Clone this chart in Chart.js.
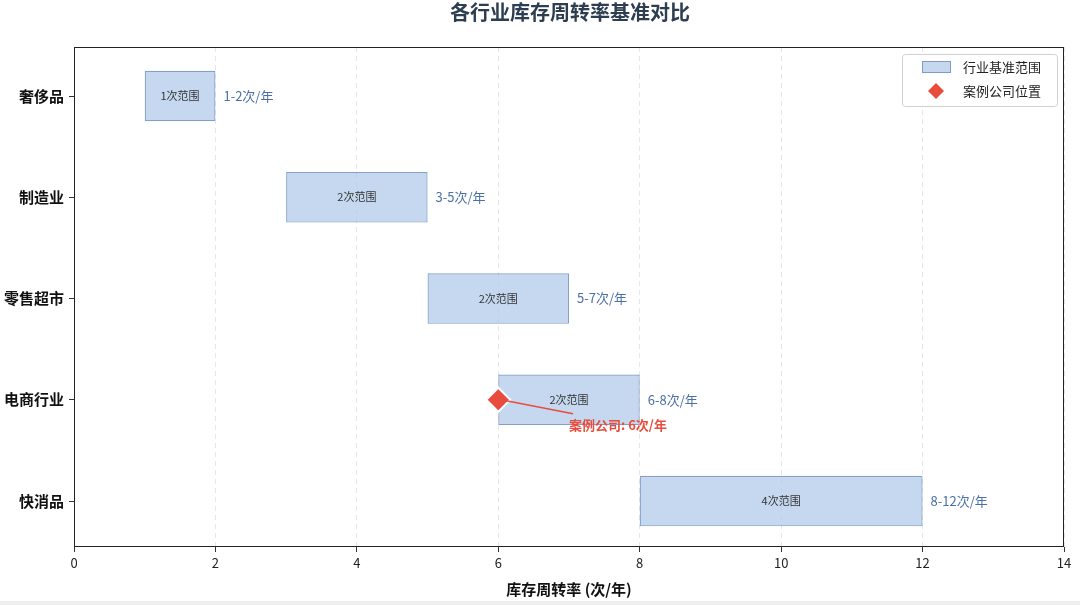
<!DOCTYPE html>
<html>
<head>
<meta charset="utf-8">
<script src="https://cdn.jsdelivr.net/npm/chart.js@4"></script>
<style>
  html, body { margin: 0; padding: 0; background: #fff; overflow: hidden; }
  #wrap { width: 1080px; height: 605px; position: relative; }
  #c { display: block; }
  #strip { position: absolute; left: 0; bottom: 0; width: 1080px; height: 4px; background: #eeeeee; }
</style>
</head>
<body>
<div id="wrap">
  <canvas id="c" width="1080" height="605"></canvas>
  <div id="strip"></div>
</div>
<script>
const industries = ['奢侈品', '制造业', '零售超市', '电商行业', '快消品'];
const rangeLow = [1, 3, 5, 6, 8];
const rangeHigh = [2, 5, 7, 8, 12];
const companyName = '电商行业';
const companyValue = 6;
const xTicks = [0, 2, 4, 6, 8, 10, 12, 14];

const FONT = '"Noto Sans CJK SC", "Noto Sans", sans-serif';
const companyIdx = industries.indexOf(companyName);

// range text drawn next to / inside each bar
const rangeText = {
  id: 'rangeText',
  afterDatasetsDraw(chart) {
    const ctx = chart.ctx;
    const meta = chart.getDatasetMeta(0);
    const x = chart.scales.x;
    ctx.save();
    ctx.textBaseline = 'middle';
    meta.data.forEach((bar, i) => {
      const lo = rangeLow[i], hi = rangeHigh[i];
      const cx = (x.getPixelForValue(lo) + x.getPixelForValue(hi)) / 2;
      ctx.font = '11px ' + FONT;
      ctx.fillStyle = '#333';
      ctx.textAlign = 'center';
      ctx.fillText((hi - lo) + '次范围', cx, bar.y);
      ctx.font = '13px ' + FONT;
      ctx.fillStyle = '#4a6fa5';
      ctx.textAlign = 'left';
      ctx.fillText(lo + '-' + hi + '次/年', x.getPixelForValue(hi) + 8, bar.y);
    });
    ctx.restore();
  }
};

// frame, title, axis title, legend, company annotation
const decor = {
  id: 'decor',
  afterDraw(chart) {
    const ctx = chart.ctx;
    const a = chart.chartArea;
    const x = chart.scales.x, y = chart.scales.y;
    ctx.save();
    ctx.strokeStyle = '#222';
    ctx.lineWidth = 1;
    ctx.strokeRect(a.left + 0.5, a.top + 0.5, a.right - a.left - 1, a.bottom - a.top - 1);

    ctx.font = 'bold 20px ' + FONT;
    ctx.fillStyle = '#2c3e50';
    ctx.textAlign = 'center';
    ctx.textBaseline = 'middle';
    ctx.fillText('各行业库存周转率基准对比', 570, 12);

    ctx.font = 'bold 15px ' + FONT;
    ctx.fillStyle = '#111';
    ctx.fillText('库存周转率 (次/年)', (a.left + a.right) / 2, 589);

    // annotation
    const px = x.getPixelForValue(companyValue);
    const py = y.getPixelForValue(companyIdx);
    const tx = x.getPixelForValue(companyValue + 1);
    const ty = py + 25;
    ctx.strokeStyle = '#e74c3c';
    ctx.lineWidth = 1.5;
    ctx.beginPath();
    ctx.moveTo(tx + 4, ty - 11);
    ctx.lineTo(px + 8, py + 1);
    ctx.stroke();
    ctx.font = 'bold 13px ' + FONT;
    ctx.fillStyle = '#e74c3c';
    ctx.textAlign = 'left';
    ctx.fillText('案例公司: ' + companyValue + '次/年', tx, ty);

    // legend
    const lx = 902, ly = 54, lw = 155, lh = 52;
    ctx.fillStyle = 'rgba(255,255,255,0.85)';
    ctx.strokeStyle = '#d0d0d0';
    ctx.lineWidth = 1;
    ctx.beginPath();
    ctx.roundRect(lx + 0.5, ly + 0.5, lw, lh, 3);
    ctx.fill();
    ctx.stroke();
    ctx.fillStyle = '#c5d8f0';
    ctx.strokeStyle = '#7f9cc6';
    ctx.fillRect(922, 61, 28, 11);
    ctx.strokeRect(922.5, 61.5, 28, 11);
    ctx.fillStyle = '#e74c3c';
    ctx.beginPath();
    ctx.moveTo(936, 83); ctx.lineTo(944, 91); ctx.lineTo(936, 99); ctx.lineTo(928, 91);
    ctx.closePath();
    ctx.fill();
    ctx.fillStyle = '#222';
    ctx.font = '13px ' + FONT;
    ctx.textAlign = 'left';
    ctx.fillText('行业基准范围', 963, 67);
    ctx.fillText('案例公司位置', 963, 91);
    ctx.restore();
  }
};

new Chart(document.getElementById('c'), {
  data: {
    datasets: [
      {
        type: 'bar',
        label: '行业基准范围',
        data: industries.map((name, i) => ({ y: i, x: [rangeLow[i], rangeHigh[i]] })),
        backgroundColor: 'rgba(172,199,234,0.7)',
        borderColor: 'rgba(110,142,190,0.85)',
        borderWidth: 1.2,
        borderSkipped: false,
        categoryPercentage: 1,
        barPercentage: 0.5,
        order: 2,
      },
      {
        type: 'scatter',
        label: '案例公司位置',
        data: [{ x: companyValue, y: companyIdx }],
        pointStyle: 'rectRot',
        pointRadius: 12,
        backgroundColor: '#e74c3c',
        borderColor: '#ffffff',
        borderWidth: 2,
        order: 1,
      },
    ],
  },
  options: {
    indexAxis: 'y',
    responsive: false,
    animation: false,
    layout: { padding: { top: 47, right: 16, left: 0, bottom: 0 } },
    plugins: {
      legend: { display: false },
      title: { display: false },
      tooltip: { enabled: false },
    },
    scales: {
      x: {
        type: 'linear',
        min: 0,
        max: 14,
        afterBuildTicks: (s) => { s.ticks = xTicks.map((v) => ({ value: v })); },
        afterFit: (s) => { s.height = 58; },
        grid: { color: '#e6e6e6', tickColor: '#333', tickLength: 5 },
        border: { display: false, dash: [5, 4] },
        ticks: { color: '#222', font: { family: FONT, size: 13 }, padding: 3 },
      },
      y: {
        type: 'linear',
        reverse: true,
        offset: false,
        min: -0.484,
        max: 4.454,
        afterBuildTicks: (s) => { s.ticks = industries.map((n, i) => ({ value: i })); },
        afterFit: (s) => { s.width = 74; },
        grid: { offset: false, drawOnChartArea: false, tickColor: '#333', tickLength: 5 },
        border: { display: false },
        ticks: {
          color: '#111',
          font: { family: FONT, size: 15, weight: 'bold' },
          padding: 5,
          callback: (v) => industries[v],
        },
      },
    },
  },
  plugins: [rangeText, decor],
});
</script>
</body>
</html>
